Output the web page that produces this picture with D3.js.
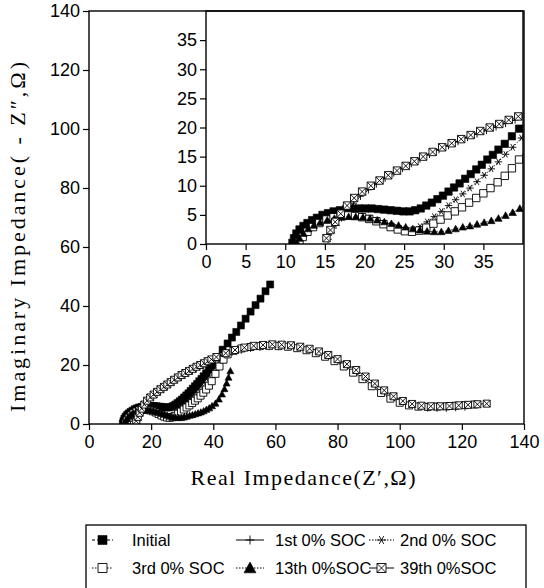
<!DOCTYPE html>
<html><head><meta charset="utf-8">
<script src="https://cdn.jsdelivr.net/npm/d3@7"></script>
<style>body{margin:0;background:#fff}svg{display:block}</style>
</head><body><svg id="c" width="544" height="588"></svg>
<script>
// ---- data (Z', -Z'') ----
const initialData = [[10.9,0.2],[11.1,1.0],[11.4,1.8],[11.8,2.5],[12.3,3.1],[12.8,3.6],[13.4,4.1],[14.0,4.5],[14.7,5.0],[15.4,5.3],[16.1,5.6],[16.9,5.8],[17.7,6.0],[18.5,6.1],[19.3,6.1],[20.1,6.1],[20.9,6.1],[21.7,6.0],[22.5,5.9],[23.3,5.8],[24.1,5.7],[24.9,5.6],[25.7,5.6],[26.4,5.8],[27.1,6.1],[27.8,6.6],[28.5,7.1],[29.2,7.7],[29.9,8.3],[30.6,9.0],[31.3,9.7],[32.0,10.4],[32.7,11.2],[33.4,12.0],[34.1,12.8],[34.8,13.6],[35.5,14.5],[36.2,15.3],[36.9,16.2],[37.7,17.2],[38.6,18.5],[39.5,19.8],[41.2,22.5],[43.0,25.2],[44.6,27.3],[46.0,29.3],[47.4,31.2],[48.9,33.4],[50.4,35.7],[52.0,38.1],[53.6,40.3],[55.2,42.5],[56.8,45.0],[58.3,47.3]];
const soc1Data = [[15.4,0.8],[15.8,2.0],[16.4,3.2],[17.1,4.5],[17.8,5.7],[18.6,7.0],[19.5,8.2],[20.5,9.3],[21.5,10.3],[22.6,11.3],[23.7,12.2],[24.8,13.0],[25.9,13.8],[27.0,14.6],[28.2,15.4],[29.4,16.2],[30.6,16.9],[31.8,17.6],[33.0,18.3],[34.2,18.9],[35.4,19.5],[36.6,20.1],[37.8,20.7],[39.0,21.3],[40.5,22.0],[43,23.1],[46,24.2],[49,25.0],[52,25.6],[55,26.0],[58,26.2],[61,26.2],[64,26.0],[67,25.6],[70,25.0],[73,24.1],[76,23.0],[79,21.6],[82,19.9],[85,17.9],[88,15.7],[91,13.4],[94,11.1],[97,9.1],[100,7.6],[103,6.5],[106,5.8],[109,5.4],[112,5.3],[115,5.3],[118,5.5],[121,5.7]];
const soc2Data = [[11.6,0.2],[11.9,1.1],[12.4,1.9],[13.0,2.7],[13.7,3.4],[14.5,4.0],[15.3,4.5],[16.2,4.8],[17.1,5.0],[18.0,5.1],[18.9,5.0],[19.8,4.8],[20.7,4.5],[21.6,4.1],[22.5,3.6],[23.4,3.1],[24.3,2.7],[25.2,2.4],[26.1,2.5],[27.0,3.0],[27.9,3.8],[28.8,4.7],[29.7,5.6],[30.6,6.6],[31.5,7.6],[32.4,8.6],[33.3,9.6],[34.2,10.7],[35.1,11.8],[36.0,12.9],[36.9,14.1],[37.8,15.4],[38.7,16.6],[39.8,18.2],[41.0,20.0],[42.3,21.8],[43.5,23.0]];
const soc3Data = [[11.8,0.3],[12.2,1.2],[12.8,2.1],[13.5,2.9],[14.3,3.6],[15.2,4.2],[16.1,4.6],[17.0,4.8],[17.9,4.9],[18.8,4.8],[19.7,4.6],[20.6,4.3],[21.5,3.9],[22.4,3.4],[23.3,2.9],[24.2,2.5],[25.1,2.2],[26.0,2.1],[26.9,2.3],[27.8,2.8],[28.7,3.5],[29.6,4.2],[30.5,4.9],[31.4,5.6],[32.3,6.3],[33.2,7.1],[34.1,7.9],[35.0,8.7],[35.9,9.6],[36.8,10.6],[37.7,11.7],[38.6,13.0],[39.5,14.5],[40.7,17.0],[42.0,19.5],[43.3,21.8],[44.6,23.6],[46.5,24.8],[49,25.6],[52,26.1],[55,26.4],[58,26.5],[61,26.4],[64,26.2],[67,25.7],[70,25.0],[73,24.0],[76,22.8],[79,21.3],[82,19.5],[85,17.4],[88,15.2],[91,12.8],[94,10.5],[97,8.6],[100,7.2],[103,6.3],[106,5.9],[109,5.8],[112,5.9],[115,6.0],[118,6.2],[121,6.4],[124,6.6]];
const soc13Data = [[11.5,0.2],[11.8,1.0],[12.3,1.8],[12.9,2.6],[13.6,3.2],[14.4,3.7],[15.3,4.1],[16.2,4.4],[17.1,4.6],[18.0,4.7],[18.9,4.7],[19.8,4.6],[20.7,4.4],[21.6,4.1],[22.5,3.8],[23.4,3.5],[24.3,3.2],[25.2,2.9],[26.1,2.6],[27.0,2.4],[27.9,2.2],[28.8,2.1],[29.7,2.1],[30.6,2.3],[31.5,2.6],[32.4,2.9],[33.3,3.1],[34.2,3.4],[35.1,3.7],[36.0,4.0],[36.9,4.4],[37.8,4.9],[38.7,5.4],[39.6,6.1],[40.7,7.0],[41.8,8.4],[42.8,10.1],[43.6,11.9],[44.3,13.8],[44.9,15.8],[45.5,18.0]];
const soc39Data = [[15.2,1.0],[15.7,2.4],[16.3,3.8],[17.0,5.2],[17.8,6.6],[18.7,7.9],[19.7,9.0],[20.8,10.0],[21.9,10.9],[23.0,11.8],[24.1,12.6],[25.2,13.4],[26.3,14.2],[27.4,15.0],[28.6,15.8],[29.8,16.6],[31.0,17.3],[32.2,18.0],[33.4,18.7],[34.6,19.4],[35.8,20.0],[37.0,20.6],[38.2,21.3],[39.4,21.9],[41,22.7],[44,24.0],[47,25.1],[50,25.9],[53,26.5],[56,26.8],[59,27.0],[62,26.9],[65,26.7],[68,26.2],[71,25.5],[74,24.6],[77,23.4],[80,22.0],[83,20.3],[86,18.3],[89,16.1],[92,13.7],[95,11.4],[98,9.4],[101,7.8],[104,6.8],[107,6.2],[110,6.0],[113,6.0],[116,6.1],[119,6.3],[122,6.5],[125,6.7],[128,6.9]];

const seriesNames = ["Initial","1st 0% SOC","2nd 0% SOC","3rd 0% SOC","13th 0%SOC","39th 0%SOC"];
const mainXTicks = [0,20,40,60,80,100,120,140];
const mainYTicks = [0,20,40,60,80,100,120,140];
const insetXTicks = [0,5,10,15,20,25,30,35];
const insetYTicks = [0,5,10,15,20,25,30,35];

const series = [
  {name:seriesNames[0], data:initialData, marker:"fsquare", dash:"3,2"},
  {name:seriesNames[1], data:soc1Data, marker:"plus", dash:null},
  {name:seriesNames[2], data:soc2Data, marker:"star", dash:"1.5,1.5"},
  {name:seriesNames[3], data:soc3Data, marker:"osquare", dash:"1.5,1.5"},
  {name:seriesNames[4], data:soc13Data, marker:"triangle", dash:"1.5,1.5"},
  {name:seriesNames[5], data:soc39Data, marker:"xsquare", dash:null}
];

const svg = d3.select("#c");
const SANS = "'Liberation Sans', Arial, sans-serif";
const SERIF = "'Liberation Serif', 'Times New Roman', serif";

function markerPath(type, s){
  switch(type){
    case "fsquare": case "osquare": return `M${-s},${-s}h${2*s}v${2*s}h${-2*s}Z`;
    case "xsquare": return `M${-s},${-s}h${2*s}v${2*s}h${-2*s}ZM${-s},${-s}L${s},${s}M${s},${-s}L${-s},${s}`;
    case "plus": return `M${-s},0h${2*s}M0,${-s}v${2*s}`;
    case "star": { const a=s*0.5, b=s*0.866; return `M${-s},0h${2*s}M${-a},${-b}L${a},${b}M${a},${-b}L${-a},${b}`; }
    case "triangle": return `M0,${-s}L${s},${s*0.8}L${-s},${s*0.8}Z`;
  }
}
function styleMarker(sel, type){
  const filled = (type==="fsquare"||type==="triangle");
  sel.attr("fill", filled?"#000":(type==="osquare"||type==="xsquare")?"#fff":"none")
     .attr("stroke","#000").attr("stroke-width", filled?0.6:0.9);
}

function drawPanel(g, xs, ys, clipId, size){
  const gc = g.append("g").attr("clip-path", `url(#${clipId})`);
  const line = d3.line().x(d=>xs(d[0])).y(d=>ys(d[1]));
  series.forEach(s=>{
    gc.append("path").attr("d", line(s.data)).attr("fill","none")
      .attr("stroke","#000").attr("stroke-width",0.9)
      .attr("stroke-dasharray", s.dash);
  });
  series.forEach(s=>{
    gc.append("g").selectAll("path").data(s.data).join("path")
      .attr("transform", d=>`translate(${xs(d[0])},${ys(d[1])})`)
      .attr("d", markerPath(s.marker, size))
      .call(sel=>styleMarker(sel, s.marker));
  });
}

// ---- main plot ----
const M = {l:89, r:524, t:11, b:424};
const xMain = d3.scaleLinear().domain([0,140]).range([M.l,M.r]);
const yMain = d3.scaleLinear().domain([0,140]).range([M.b,M.t]);
const defs = svg.append("defs");
defs.append("clipPath").attr("id","clipMain").append("rect")
  .attr("x",M.l).attr("y",M.t).attr("width",M.r-M.l).attr("height",M.b-M.t);

drawPanel(svg.append("g"), xMain, yMain, "clipMain", 3.5);

function styleAxis(g){
  g.selectAll("text").attr("font-family",SANS).attr("font-size",18).attr("fill","#000");
  g.selectAll("line").attr("stroke","#000").attr("stroke-width",1.2);
  g.select(".domain").remove();
}
svg.append("g").attr("transform",`translate(0,${M.b})`)
  .call(d3.axisBottom(xMain).tickValues(mainXTicks).tickSize(6).tickPadding(5).tickFormat(d3.format("d")))
  .call(styleAxis);
svg.append("g").attr("transform",`translate(${M.l},0)`)
  .call(d3.axisLeft(yMain).tickValues(mainYTicks).tickSize(6).tickPadding(3).tickFormat(d3.format("d")))
  .call(styleAxis);

// ---- inset ----
const I = {l:206, r:523, t:11, b:244};
const xIn = d3.scaleLinear().domain([0,40]).range([I.l,I.r]);
const yIn = d3.scaleLinear().domain([0,40]).range([I.b,I.t]);
defs.append("clipPath").attr("id","clipIn").append("rect")
  .attr("x",I.l).attr("y",I.t).attr("width",I.r-I.l).attr("height",I.b-I.t);
svg.append("rect").attr("x",I.l-40).attr("y",I.t).attr("width",M.r-I.l+40).attr("height",I.b-I.t+32)
  .attr("fill","#fff");
drawPanel(svg.append("g"), xIn, yIn, "clipIn", 3.7);
svg.append("g").attr("transform",`translate(0,${I.b})`)
  .call(d3.axisBottom(xIn).tickValues(insetXTicks).tickSize(6).tickPadding(5).tickFormat(d3.format("d")))
  .call(styleAxis);
svg.append("g").attr("transform",`translate(${I.l},0)`)
  .call(d3.axisLeft(yIn).tickValues(insetYTicks).tickSize(6).tickPadding(3).tickFormat(d3.format("d")))
  .call(styleAxis);
svg.append("rect").attr("x",I.l).attr("y",I.t).attr("width",I.r-I.l).attr("height",I.b-I.t)
  .attr("fill","none").attr("stroke","#000").attr("stroke-width",1.4);
svg.append("rect").attr("x",M.l).attr("y",M.t).attr("width",M.r-M.l).attr("height",M.b-M.t)
  .attr("fill","none").attr("stroke","#000").attr("stroke-width",1.4);

// ---- axis titles ----
svg.append("text").attr("x",303).attr("y",485).attr("text-anchor","middle")
  .attr("font-family",SERIF).attr("font-size",22).attr("textLength",225).attr("lengthAdjust","spacing")
  .text("Real Impedance(Z\u2032,\u03A9)");
svg.append("text").attr("transform","translate(25,237) rotate(-90)").attr("text-anchor","middle")
  .attr("font-family",SERIF).attr("font-size",22).attr("textLength",350).attr("lengthAdjust","spacing")
  .text("Imaginary Impedance( - Z\u2033,\u03A9)");

// ---- legend ----
const lg = svg.append("g");
lg.append("rect").attr("x",86).attr("y",525).attr("width",440).attr("height",80)
  .attr("fill","none").attr("stroke","#000").attr("stroke-width",1.3);
const legCols = [{x0:92, x1:113, tx:132},{x0:236, x1:264, tx:275},{x0:369, x1:394, tx:400}];
const legRows = [540, 568];
series.forEach((s,i)=>{
  const c = legCols[i%3], ry = legRows[Math.floor(i/3)];
  lg.append("line").attr("x1",c.x0).attr("x2",c.x1).attr("y1",ry).attr("y2",ry)
    .attr("stroke","#000").attr("stroke-width",1).attr("stroke-dasharray", s.dash);
  lg.append("path").attr("transform",`translate(${(c.x0+c.x1)/2},${ry})`)
    .attr("d", markerPath(s.marker, s.marker==="triangle"?6:4.5))
    .call(sel=>styleMarker(sel, s.marker));
  lg.append("text").attr("x",c.tx).attr("y",ry+6).attr("font-family",SANS).attr("font-size",16.5)
    .text(s.name);
});
</script></body></html>
